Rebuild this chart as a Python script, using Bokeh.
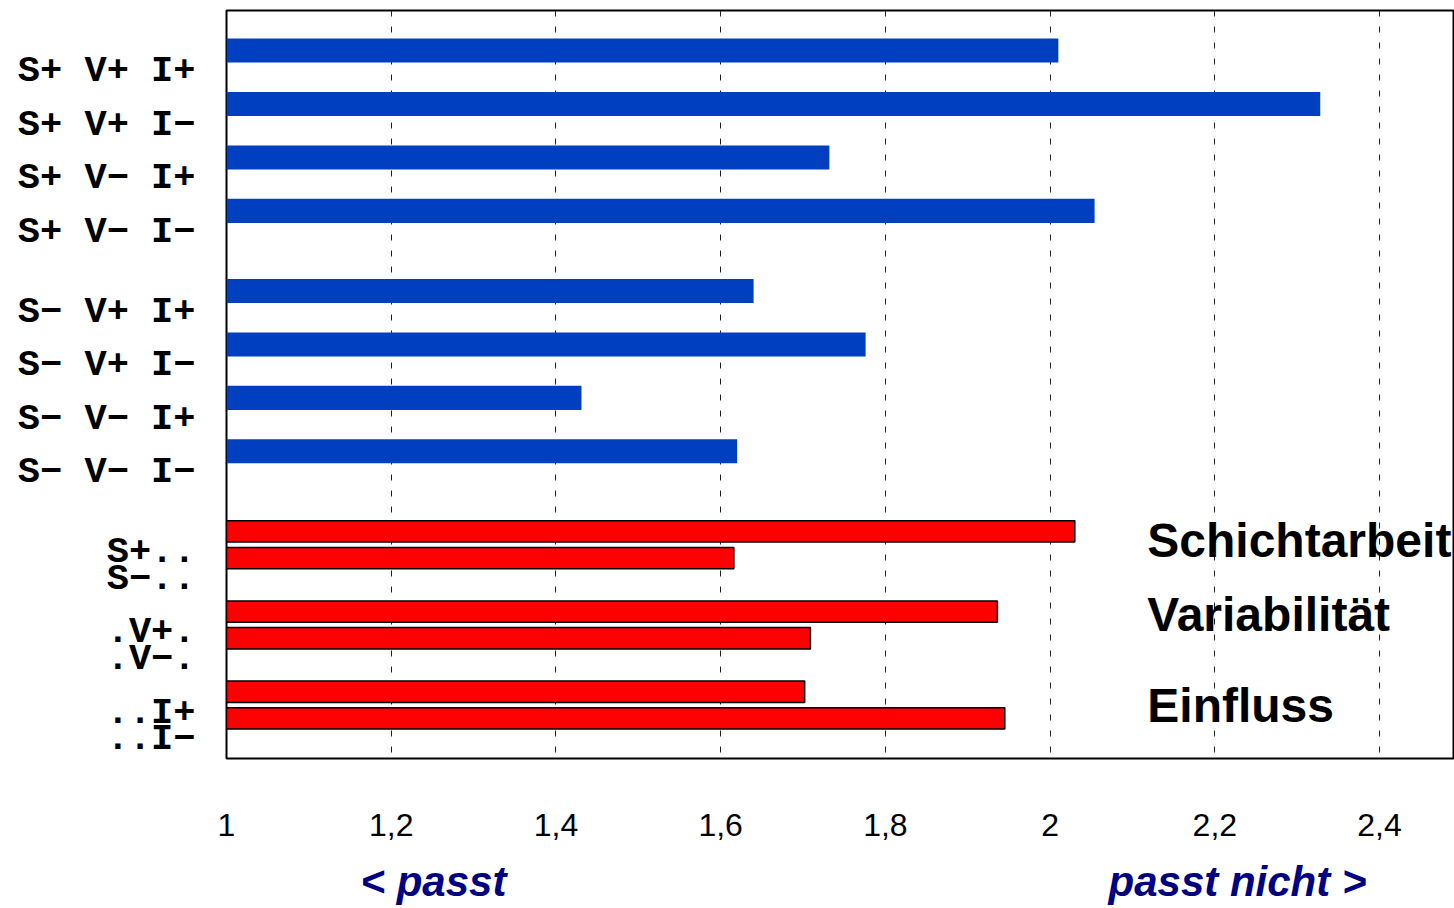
from bokeh.plotting import figure
from bokeh.models import Range1d, FixedTicker, CustomJSTickFormatter, Label, LinearAxis
from bokeh.embed import file_html
from bokeh.resources import INLINE

# ---- data ----
blue_labels = ["S+ V+ I+", "S+ V+ I\u2212", "S+ V\u2212 I+", "S+ V\u2212 I\u2212",
               "S\u2212 V+ I+", "S\u2212 V+ I\u2212", "S\u2212 V\u2212 I+", "S\u2212 V\u2212 I\u2212"]
blue_values = [2.01, 2.328, 1.732, 2.054, 1.640, 1.776, 1.431, 1.620]

red_labels = ["S+..", "S\u2212..", ".V+.", ".V\u2212.", "..I+", "..I\u2212"]
red_values = [2.030, 1.616, 1.936, 1.709, 1.702, 1.945]

factor_names = ["Schichtarbeit", "Variabilit\u00e4t", "Einfluss"]
x_ticks = [1.0, 1.2, 1.4, 1.6, 1.8, 2.0, 2.2, 2.4]
direction_titles = ["< passt", "passt nicht >"]

# ---- layout of bar slots (computed from grouping) ----
blue_pos = [i * 2 + (1 if i >= 4 else 0) for i in range(len(blue_values))]
red_pos = [18 + (i // 2) * 3 + (i % 2) for i in range(len(red_values))]
label_offset = 0.78
tick_pos = [q + label_offset for q in blue_pos + red_pos]
tick_text = blue_labels + red_labels

p = figure(width=1454, height=908, output_backend="svg", toolbar_location=None,
           x_range=Range1d(1.0, 2.491), y_range=Range1d(26.5, -1.5),
           min_border_left=226, min_border_right=0, min_border_top=10, min_border_bottom=150)
p.background_fill_color = "white"
p.border_fill_color = "white"
p.outline_line_color = "black"
p.outline_line_width = 2

p.hbar(y=blue_pos, right=blue_values, left=1.0, height=0.9,
       fill_color="#0040C0", line_color=None)
p.hbar(y=red_pos, right=red_values, left=1.0, height=0.8,
       fill_color="#FF0000", line_color="black", line_width=1.5)

# x axis (numbers)
p.xaxis.ticker = FixedTicker(ticks=x_ticks)
p.xaxis.formatter = CustomJSTickFormatter(code="""
    const s = (Math.round(tick * 10) / 10).toString();
    return s.replace('.', ',');
""")
p.xaxis.axis_line_color = None
p.xaxis.major_tick_line_color = None
p.xaxis.minor_tick_line_color = None
p.xaxis.major_tick_out = 0
p.xaxis.major_tick_in = 0
p.xaxis.major_label_standoff = 55
p.xaxis.major_label_text_font = "Liberation Sans"
p.xaxis.major_label_text_font_size = "32px"
p.xaxis.major_label_text_color = "black"

# second bottom axis carrying the direction titles
title_axis = LinearAxis(
    ticker=FixedTicker(ticks=[1.2513, 2.2275]),
    formatter=CustomJSTickFormatter(args=dict(tt=direction_titles),
                                    code="return tick < 1.8 ? tt[0] : tt[1];"),
    axis_line_color=None, major_tick_line_color=None, minor_tick_line_color=None,
    major_tick_out=0, major_tick_in=0, major_label_standoff=19,
    major_label_text_font="Liberation Sans", major_label_text_font_style="bold italic",
    major_label_text_font_size="42px", major_label_text_color="#000080")
p.add_layout(title_axis, "below")

# y axis (category labels)
p.yaxis.ticker = FixedTicker(ticks=tick_pos)
p.yaxis.formatter = CustomJSTickFormatter(args=dict(tpos=tick_pos, tlab=tick_text), code="""
    let best = 0;
    for (let i = 0; i < tpos.length; i++) {
        if (Math.abs(tpos[i] - tick) < Math.abs(tpos[best] - tick)) best = i;
    }
    return tlab[best];
""")
p.yaxis.axis_line_color = None
p.yaxis.major_tick_line_color = None
p.yaxis.minor_tick_line_color = None
p.yaxis.major_tick_out = 0
p.yaxis.major_tick_in = 0
p.yaxis.major_label_standoff = 31
p.yaxis.major_label_text_font = "Liberation Mono"
p.yaxis.major_label_text_font_style = "bold"
p.yaxis.major_label_text_font_size = "37px"
p.yaxis.major_label_text_color = "black"

# grid
p.ygrid.grid_line_color = None
p.xgrid.ticker = FixedTicker(ticks=x_ticks)
p.xgrid.grid_line_color = "#222222"
p.xgrid.grid_line_width = 1
p.xgrid.grid_line_dash = "6 10"

# factor labels at right
factor_y = [18.34, 21.11, 24.53]
for name, yy in zip(factor_names, factor_y):
    p.add_layout(Label(x=2.118, y=yy, text=name, text_font="Liberation Sans",
                       text_font_style="bold", text_font_size="48px",
                       text_color="black", text_baseline="middle", text_align="left"))

open("out.html", "w").write(file_html(p, INLINE))
